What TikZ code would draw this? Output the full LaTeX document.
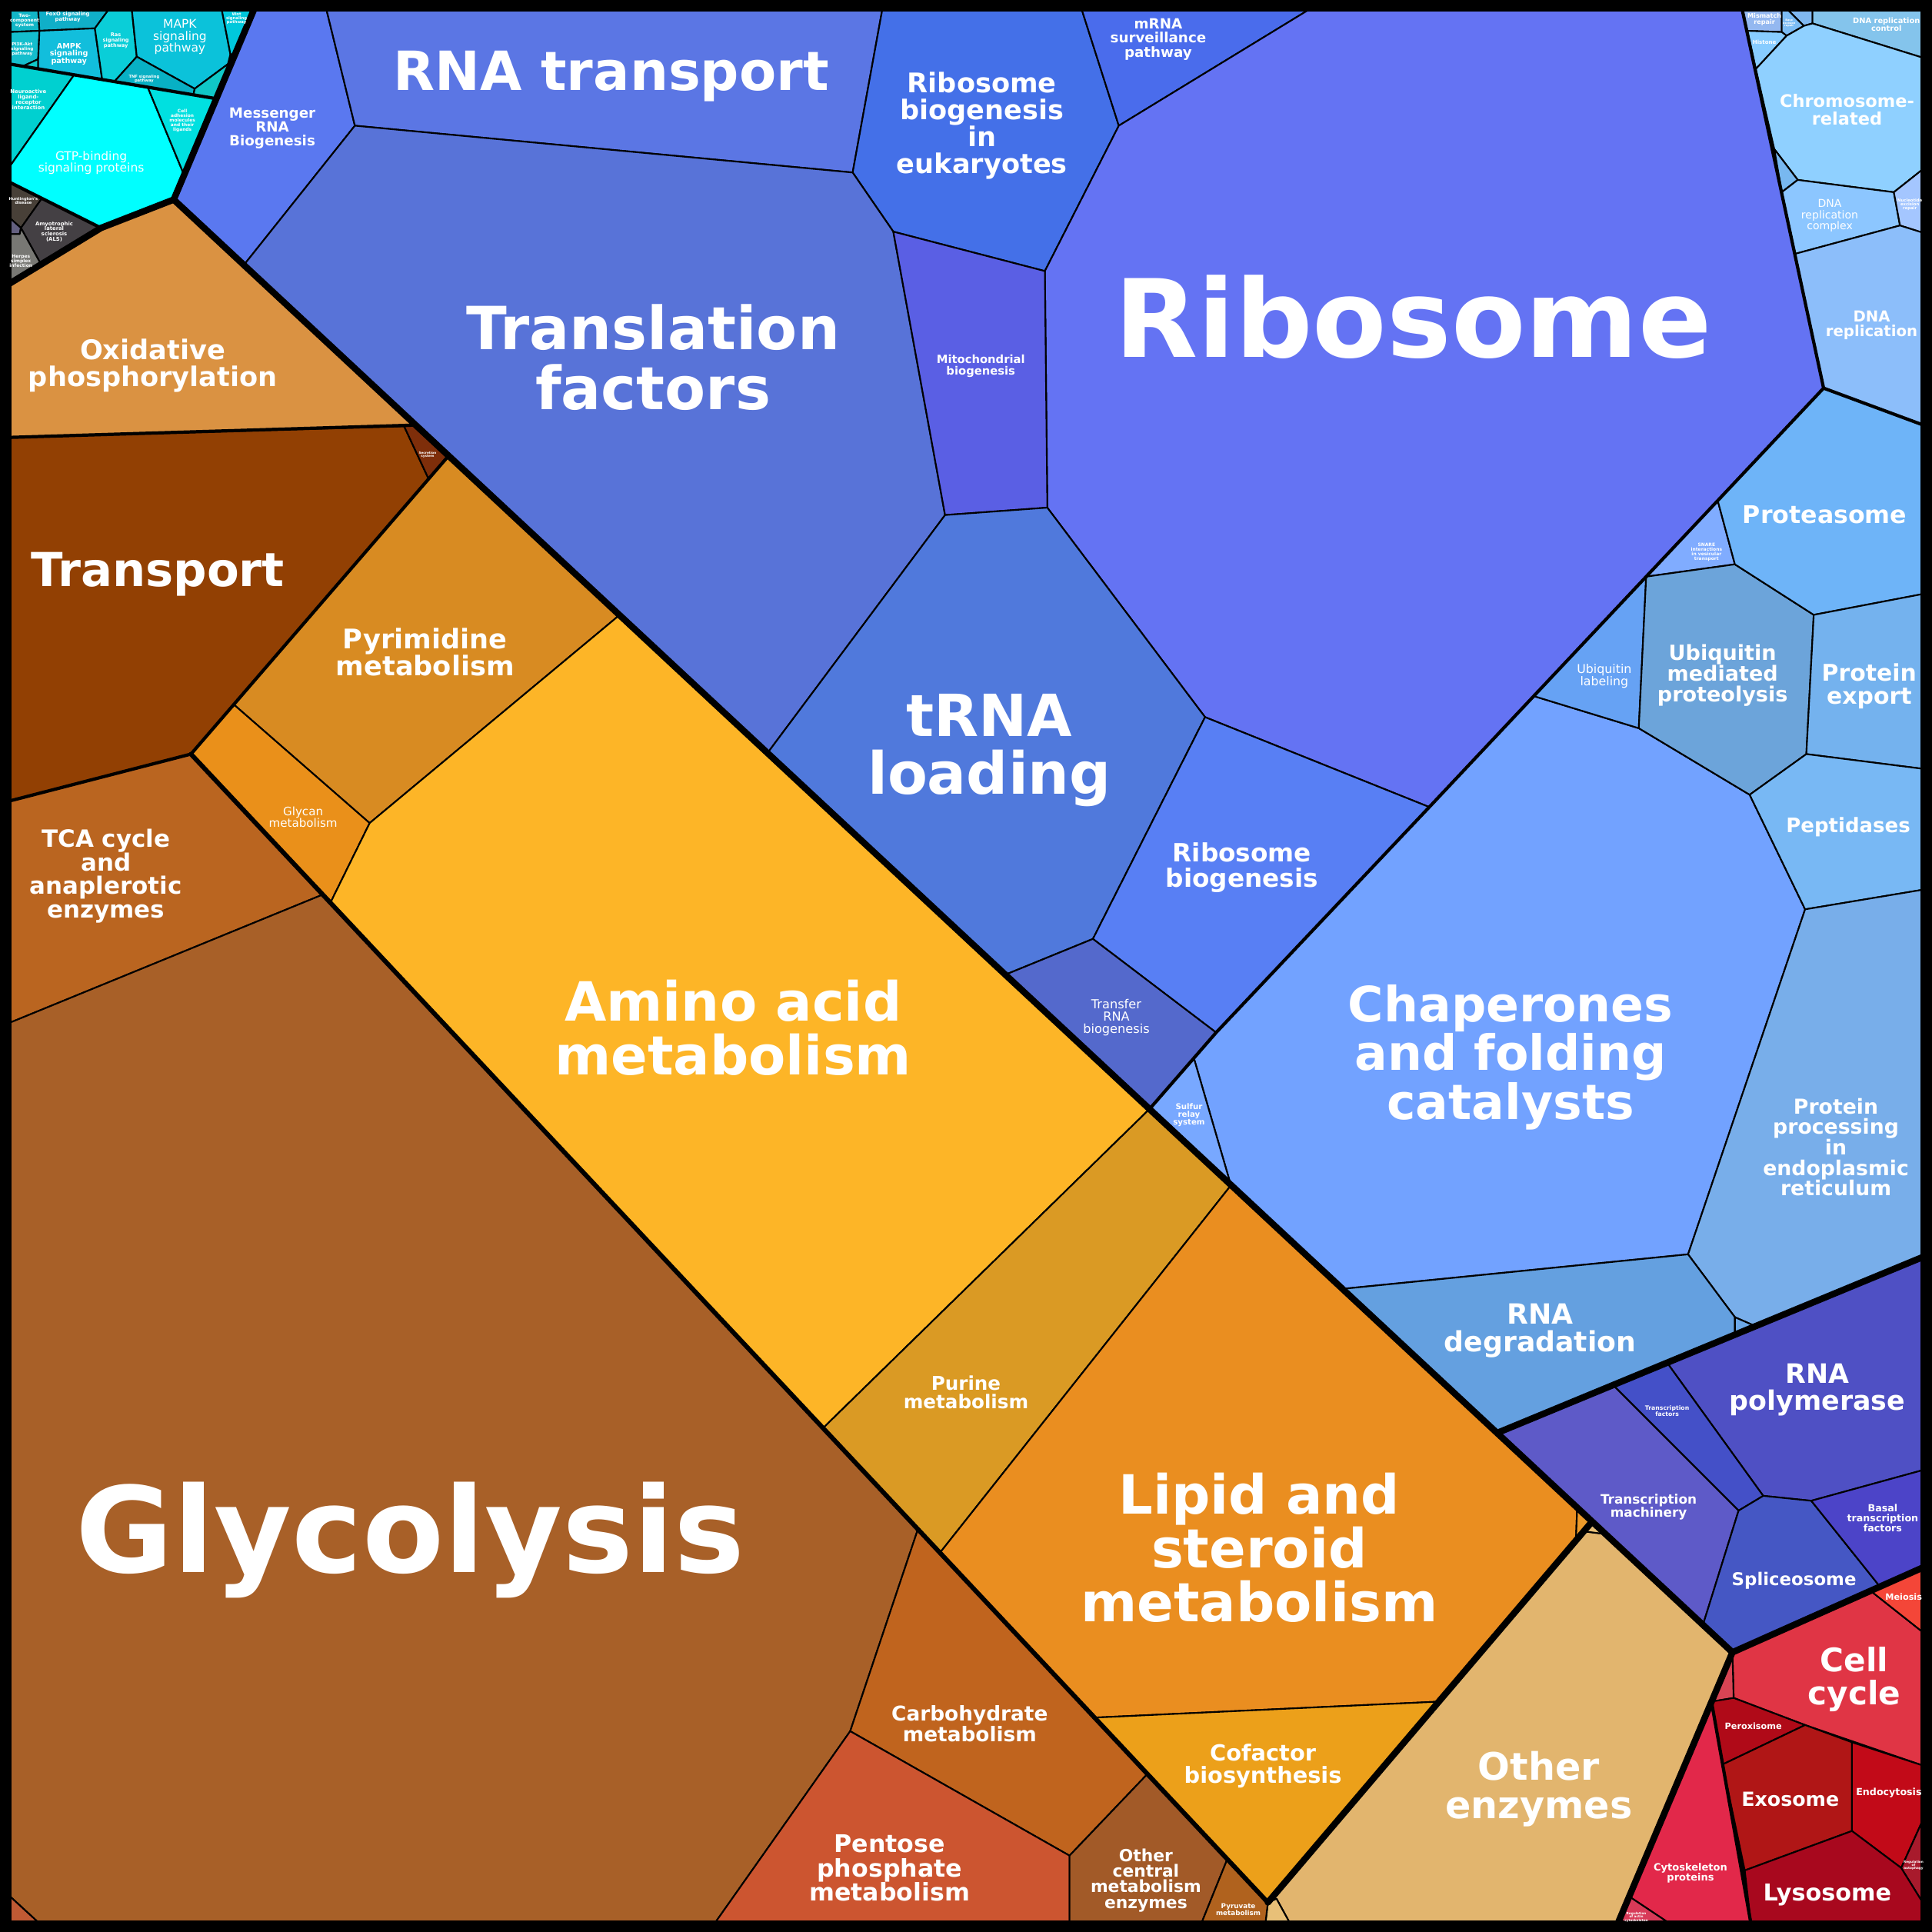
\documentclass[tikz,border=0pt]{standalone}
\usepackage{fontspec}
\setmainfont{DejaVu Sans}
\newcommand{\lblbf}[1]{\fontsize{#1}{#1}\selectfont\bfseries}
\newcommand{\lblrg}[1]{\fontsize{#1}{#1}\selectfont}
% signalling and disease
\definecolor{twocomp}{HTML}{12B6C6}
\definecolor{foxo}{HTML}{10AFC8}
\definecolor{pithree}{HTML}{14BECD}
\definecolor{ampk}{HTML}{12BEDC}
\definecolor{ras}{HTML}{0ACED8}
\definecolor{mapk}{HTML}{0BC2DA}
\definecolor{wnt}{HTML}{00C8DC}
\definecolor{tnf}{HTML}{08B0C4}
\definecolor{hhsig}{HTML}{10C8C8}
\definecolor{neuro}{HTML}{00D0D0}
\definecolor{gtp}{HTML}{00FFFF}
\definecolor{celladh}{HTML}{00E0E0}
\definecolor{hunt}{HTML}{484038}
\definecolor{als}{HTML}{444044}
\definecolor{herpes}{HTML}{787874}
\definecolor{prion}{HTML}{646080}
% genetic information
\definecolor{messenger}{HTML}{5A78F0}
\definecolor{rnatrans}{HTML}{5B76E4}
\definecolor{ribeuk}{HTML}{4470E8}
\definecolor{mrnasurv}{HTML}{4A6CEC}
\definecolor{ribo}{HTML}{6473F3}
\definecolor{transl}{HTML}{5873D8}
\definecolor{mito}{HTML}{5A5FE4}
\definecolor{trnaload}{HTML}{5079DC}
\definecolor{ribbio}{HTML}{587FF4}
\definecolor{transfer}{HTML}{5469CC}
\definecolor{chaper}{HTML}{72A2FF}
\definecolor{sulfur}{HTML}{78A8FF}
\definecolor{ubiqlab}{HTML}{66A2F4}
\definecolor{snare}{HTML}{80ACFF}
\definecolor{ubiqmed}{HTML}{6CA4DA}
\definecolor{protea}{HTML}{6EB4F8}
\definecolor{protexp}{HTML}{74B2EE}
\definecolor{peptid}{HTML}{78B8F4}
\definecolor{protER}{HTML}{78AEEA}
\definecolor{rnadeg}{HTML}{64A0E0}
\definecolor{rnatiny}{HTML}{6CA8E8}
\definecolor{mismatch}{HTML}{94B8F0}
\definecolor{baseexc}{HTML}{7CBCF4}
\definecolor{dnatop}{HTML}{80B8F0}
\definecolor{dnactl}{HTML}{84C4EC}
\definecolor{histone}{HTML}{88CCFF}
\definecolor{chromo}{HTML}{8FD0FF}
\definecolor{dnasmall}{HTML}{78B8F0}
\definecolor{dnacx}{HTML}{8CC6FF}
\definecolor{nucexc}{HTML}{A4C6FF}
\definecolor{dnarep}{HTML}{8CBEFA}
\definecolor{rnapol}{HTML}{4F50C4}
\definecolor{tfac}{HTML}{4450C8}
\definecolor{tmach}{HTML}{5E5AC8}
\definecolor{splice}{HTML}{4557C4}
\definecolor{basal}{HTML}{4C44C8}
% cellular processes
\definecolor{cellcyc}{HTML}{E03545}
\definecolor{meiosis}{HTML}{F44638}
\definecolor{redtiny}{HTML}{D84454}
\definecolor{perox}{HTML}{B00A18}
\definecolor{exosome}{HTML}{B01616}
\definecolor{endocyt}{HTML}{C20A18}
\definecolor{autoph}{HTML}{A81A2C}
\definecolor{lysosome}{HTML}{A8081E}
\definecolor{cytosk}{HTML}{E2284A}
\definecolor{actin}{HTML}{D83A58}
% metabolism
\definecolor{otherenz}{HTML}{E2B56E}
\definecolor{tantiny}{HTML}{E8C078}
\definecolor{orgtiny}{HTML}{EC9A2A}
\definecolor{oxphos}{HTML}{DA9242}
\definecolor{transport}{HTML}{924003}
\definecolor{secretion}{HTML}{7E2E0A}
\definecolor{pyrimid}{HTML}{D88B22}
\definecolor{glycan}{HTML}{EA901A}
\definecolor{amino}{HTML}{FDB527}
\definecolor{purine}{HTML}{DA9A24}
\definecolor{lipid}{HTML}{EA8E20}
\definecolor{cofactor}{HTML}{ECA01A}
\definecolor{tca}{HTML}{BA6520}
\definecolor{glycol}{HTML}{A86028}
\definecolor{carbo}{HTML}{C0641E}
\definecolor{pentose}{HTML}{CC5530}
\definecolor{othcent}{HTML}{A25A28}
\definecolor{pyruv}{HTML}{B0621E}
\definecolor{corner}{HTML}{C05A34}

\begin{document}
\begin{tikzpicture}[x=0.1602mm, y=-0.1602mm,
  cellpoly/.style={draw=black, line width=0.6pt, line join=round},
  midlvl/.style={draw=black, line width=1.2pt, line join=round, line cap=round},
  toplvl/.style={draw=black, line width=2.4pt, line join=round, line cap=round},
  lbl/.style={text=white, align=center, inner sep=0pt}]
  \useasboundingbox (0,0) rectangle (1568,1568);
  \fill[black] (0,0) rectangle (1568,1568);

  % Signalling (top left corner)
  \filldraw[cellpoly, fill=twocomp] (8,8) -- (31,8) -- (32,25) -- (8,26) -- cycle;
  \filldraw[cellpoly, fill=foxo] (31,8) -- (88,8) -- (77,23) -- (32,25) -- cycle;
  \filldraw[cellpoly, fill=pithree] (8,26) -- (32,25) -- (31,48) -- (18,54) -- (8,52) -- cycle;
  \filldraw[cellpoly, fill=hhsig] (31,48) -- (31,56) -- (18,54) -- cycle;
  \filldraw[cellpoly, fill=ampk] (32,25) -- (77,23) -- (83,65) -- (31,56) -- (31,48) -- cycle;
  \filldraw[cellpoly, fill=ras] (77,23) -- (88,8) -- (107,8) -- (111,46) -- (93,66) -- (83,65) -- cycle;
  \filldraw[cellpoly, fill=mapk] (107,8) -- (180,8) -- (187,44) -- (185,52) -- (158,72) -- (111,46) -- cycle;
  \filldraw[cellpoly, fill=wnt] (180,8) -- (206,8) -- (191,44) -- (187,44) -- cycle;
  \filldraw[cellpoly, fill=tnf] (111,46) -- (158,72) -- (157,77) -- (93,66) -- cycle;
  \filldraw[cellpoly, fill=hhsig] (158,72) -- (185,52) -- (191,44) -- (175,80) -- (157,77) -- cycle;
  \filldraw[cellpoly, fill=neuro] (8,52) -- (60,61) -- (8,135) -- cycle;
  \filldraw[cellpoly, fill=gtp] (60,61) -- (120,71) -- (149,141) -- (141,162) -- (82,185) -- (8,148) -- (8,135) -- cycle;
  \filldraw[cellpoly, fill=celladh] (120,71) -- (175,80) -- (149,141) -- cycle;

  % Diseases
  \filldraw[cellpoly, fill=hunt] (8,148) -- (34,161) -- (17,185) -- (8,177) -- cycle;
  \filldraw[cellpoly, fill=als] (34,161) -- (82,185) -- (33,214) -- (17,185) -- cycle;
  \filldraw[cellpoly, fill=prion] (8,177) -- (17,185) -- (16,190) -- (8,190) -- cycle;
  \filldraw[cellpoly, fill=herpes] (8,190) -- (16,190) -- (17,185) -- (33,214) -- (8,230) -- cycle;

  % Translation
  \filldraw[cellpoly, fill=messenger] (206,8) -- (265,8) -- (288,102) -- (198,215) -- (141,162) -- cycle;
  \filldraw[cellpoly, fill=rnatrans] (265,8) -- (716,8) -- (692,140) -- (288,102) -- cycle;
  \filldraw[cellpoly, fill=ribeuk] (716,8) -- (878,8) -- (908,102) -- (848,220) -- (725,188) -- (692,140) -- cycle;
  \filldraw[cellpoly, fill=mrnasurv] (878,8) -- (1062,8) -- (908,102) -- cycle;
  \filldraw[cellpoly, fill=ribo] (1062,8) -- (1414,8) -- (1480,315) -- (1160,655) -- (978,582) -- (850,412) -- (848,220) -- (908,102) -- cycle;
  \filldraw[cellpoly, fill=transl] (288,102) -- (692,140) -- (725,188) -- (767,418) -- (623,611) -- (198,215) -- cycle;
  \filldraw[cellpoly, fill=mito] (725,188) -- (848,220) -- (850,412) -- (767,418) -- cycle;
  \filldraw[cellpoly, fill=trnaload] (767,418) -- (850,412) -- (978,582) -- (887,762) -- (816,791) -- (623,611) -- cycle;
  \filldraw[cellpoly, fill=ribbio] (978,582) -- (1160,655) -- (987,838) -- (887,762) -- cycle;
  \filldraw[cellpoly, fill=transfer] (887,762) -- (987,838) -- (933,900) -- (816,791) -- cycle;

  % Replication and repair
  \filldraw[cellpoly, fill=mismatch] (1414,8) -- (1446,8) -- (1446,26) -- (1418,25) -- cycle;
  \filldraw[cellpoly, fill=baseexc] (1446,26) -- (1446,8) -- (1451,8) -- (1464,21) -- (1450,29) -- cycle;
  \filldraw[cellpoly, fill=dnatop] (1451,8) -- (1471,8) -- (1471,19) -- (1464,21) -- cycle;
  \filldraw[cellpoly, fill=dnactl] (1471,8) -- (1561,8) -- (1561,47) -- (1471,19) -- cycle;
  \filldraw[cellpoly, fill=histone] (1418,25) -- (1446,26) -- (1450,29) -- (1425,56) -- cycle;
  \filldraw[cellpoly, fill=chromo] (1450,29) -- (1464,21) -- (1471,19) -- (1561,47) -- (1561,137) -- (1537,156) -- (1459,146) -- (1440,121) -- (1425,56) -- cycle;
  \filldraw[cellpoly, fill=dnasmall] (1440,121) -- (1459,146) -- (1446,156) -- cycle;
  \filldraw[cellpoly, fill=dnacx] (1459,146) -- (1537,156) -- (1542,183) -- (1457,206) -- (1446,156) -- cycle;
  \filldraw[cellpoly, fill=nucexc] (1537,156) -- (1561,137) -- (1561,189) -- (1542,183) -- cycle;
  \filldraw[cellpoly, fill=dnarep] (1457,206) -- (1542,183) -- (1561,189) -- (1561,345) -- (1480,315) -- cycle;

  % Folding, sorting and degradation
  \filldraw[cellpoly, fill=chaper] (987,838) -- (1160,655) -- (1245,565) -- (1330,591) -- (1420,645) -- (1465,738) -- (1370,1018) -- (1090,1046) -- (999,962) -- (969,859) -- cycle;
  \filldraw[cellpoly, fill=sulfur] (933,900) -- (969,859) -- (999,962) -- cycle;
  \filldraw[cellpoly, fill=ubiqlab] (1245,565) -- (1336,468) -- (1330,591) -- cycle;
  \filldraw[cellpoly, fill=snare] (1336,468) -- (1394,406) -- (1408,458) -- cycle;
  \filldraw[cellpoly, fill=ubiqmed] (1336,468) -- (1408,458) -- (1472,499) -- (1466,612) -- (1420,645) -- (1330,591) -- cycle;
  \filldraw[cellpoly, fill=protea] (1394,406) -- (1480,315) -- (1561,345) -- (1561,482) -- (1472,499) -- (1408,458) -- cycle;
  \filldraw[cellpoly, fill=protexp] (1472,499) -- (1561,482) -- (1561,624) -- (1466,612) -- cycle;
  \filldraw[cellpoly, fill=peptid] (1420,645) -- (1466,612) -- (1561,624) -- (1561,722) -- (1465,738) -- cycle;
  \filldraw[cellpoly, fill=protER] (1465,738) -- (1561,722) -- (1561,1020) -- (1424,1076) -- (1408,1069) -- (1370,1018) -- cycle;
  \filldraw[cellpoly, fill=rnadeg] (1090,1046) -- (1370,1018) -- (1408,1069) -- (1408,1083) -- (1215,1163) -- cycle;
  \filldraw[cellpoly, fill=rnatiny] (1408,1069) -- (1424,1076) -- (1408,1083) -- cycle;

  % Transcription
  \filldraw[cellpoly, fill=rnapol] (1353,1106) -- (1561,1020) -- (1561,1193) -- (1470,1218) -- (1431,1214) -- cycle;
  \filldraw[cellpoly, fill=tfac] (1309,1124) -- (1353,1106) -- (1431,1214) -- (1411,1226) -- cycle;
  \filldraw[cellpoly, fill=tmach] (1215,1163) -- (1309,1124) -- (1411,1226) -- (1382,1319) -- cycle;
  \filldraw[cellpoly, fill=splice] (1382,1319) -- (1411,1226) -- (1431,1214) -- (1470,1218) -- (1526,1288) -- (1406,1341) -- cycle;
  \filldraw[cellpoly, fill=basal] (1470,1218) -- (1561,1193) -- (1561,1272) -- (1526,1288) -- cycle;

  % Cellular processes (bottom right)
  \filldraw[cellpoly, fill=cellcyc] (1406,1341) -- (1518,1291) -- (1561,1325) -- (1561,1433) -- (1465,1400) -- (1407,1378) -- cycle;
  \filldraw[cellpoly, fill=meiosis] (1518,1291) -- (1561,1272) -- (1561,1325) -- cycle;
  \filldraw[cellpoly, fill=redtiny] (1406,1341) -- (1407,1378) -- (1389,1381) -- cycle;
  \filldraw[cellpoly, fill=perox] (1389,1381) -- (1407,1378) -- (1465,1400) -- (1398,1432) -- cycle;
  \filldraw[cellpoly, fill=exosome] (1398,1432) -- (1465,1400) -- (1503,1414) -- (1503,1486) -- (1416,1518) -- cycle;
  \filldraw[cellpoly, fill=endocyt] (1503,1414) -- (1561,1433) -- (1561,1476) -- (1543,1516) -- (1503,1486) -- cycle;
  \filldraw[cellpoly, fill=autoph] (1543,1516) -- (1561,1476) -- (1561,1545) -- cycle;
  \filldraw[cellpoly, fill=lysosome] (1416,1518) -- (1503,1486) -- (1543,1516) -- (1561,1545) -- (1561,1561) -- (1421,1561) -- cycle;
  \filldraw[cellpoly, fill=cytosk] (1389,1381) -- (1421,1561) -- (1355,1561) -- (1322,1539) -- cycle;
  \filldraw[cellpoly, fill=actin] (1322,1539) -- (1355,1561) -- (1313,1561) -- cycle;

  % Other enzymes
  \filldraw[cellpoly, fill=otherenz] (1279,1250) -- (1287,1243) -- (1303,1245) -- (1406,1341) -- (1313,1561) -- (1047,1561) -- (1036,1541) -- (1029,1544) -- cycle;
  \filldraw[cellpoly, fill=tantiny] (1287,1243) -- (1292,1235) -- (1303,1245) -- cycle;
  \filldraw[cellpoly, fill=tantiny] (1029,1544) -- (1036,1541) -- (1047,1561) -- (1027,1561) -- cycle;

  % Metabolism
  \filldraw[cellpoly, fill=oxphos] (8,230) -- (82,185) -- (141,162) -- (337,345) -- (8,355) -- cycle;
  \filldraw[cellpoly, fill=transport] (8,355) -- (328,346) -- (348,389) -- (155,612) -- (8,650) -- cycle;
  \filldraw[cellpoly, fill=secretion] (328,346) -- (337,345) -- (364,370) -- (348,389) -- cycle;
  \filldraw[cellpoly, fill=pyrimid] (364,370) -- (503,499) -- (300,668) -- (190,572) -- cycle;
  \filldraw[cellpoly, fill=glycan] (190,572) -- (300,668) -- (268,733) -- (155,612) -- cycle;
  \filldraw[cellpoly, fill=amino] (503,499) -- (933,900) -- (668,1159) -- (268,733) -- (300,668) -- cycle;
  \filldraw[cellpoly, fill=purine] (668,1159) -- (933,900) -- (999,962) -- (763,1260) -- cycle;
  \filldraw[cellpoly, fill=lipid] (999,962) -- (1280,1224) -- (1279,1250) -- (1168,1381) -- (888,1394) -- (763,1260) -- cycle;
  \filldraw[cellpoly, fill=orgtiny] (1280,1224) -- (1292,1235) -- (1279,1250) -- cycle;
  \filldraw[cellpoly, fill=cofactor] (888,1394) -- (1168,1381) -- (1029,1544) -- cycle;
  \filldraw[cellpoly, fill=tca] (8,650) -- (155,612) -- (262,726) -- (8,830) -- cycle;
  \filldraw[cellpoly, fill=glycol] (8,830) -- (262,726) -- (745,1241) -- (690,1405) -- (580,1561) -- (32,1561) -- (8,1539) -- cycle;
  \filldraw[cellpoly, fill=corner] (8,1539) -- (32,1561) -- (8,1561) -- cycle;
  \filldraw[cellpoly, fill=carbo] (745,1241) -- (931,1440) -- (868,1506) -- (690,1405) -- cycle;
  \filldraw[cellpoly, fill=pentose] (690,1405) -- (868,1506) -- (868,1561) -- (580,1561) -- cycle;
  \filldraw[cellpoly, fill=othcent] (868,1506) -- (931,1440) -- (996,1509) -- (975,1561) -- (868,1561) -- cycle;
  \filldraw[cellpoly, fill=pyruv] (996,1509) -- (1029,1544) -- (1027,1561) -- (975,1561) -- cycle;

  % Group borders
  \draw[midlvl] (8,52) -- (175,80);
  \draw[midlvl] (8,148) -- (82,185);
  \draw[midlvl] (1414,8) -- (1480,315) -- (1160,655) -- (987,838) -- (933,900);
  \draw[midlvl] (1480,315) -- (1561,345);
  \draw[midlvl] (8,355) -- (337,345);
  \draw[midlvl] (364,370) -- (155,612) -- (8,650);
  \draw[midlvl] (1389,1381) -- (1421,1561);
  \draw[midlvl, line width=1.7pt] (155,612) -- (1029,1544);
  \draw[toplvl] (206,8) -- (141,162) -- (82,185) -- (8,230);
  \draw[toplvl] (141,162) -- (1406,1341);
  \draw[toplvl] (1313,1561) -- (1406,1341) -- (1561,1272);
  \draw[toplvl] (1292,1235) -- (1029,1544);
  \draw[toplvl] (1215,1163) -- (1561,1020);
  \draw[black, line width=3pt] (6,6) rectangle (1562,1562);

  % Labels, translation
  \node[lbl, font=\lblbf{40}] (ribosome) at (1147,257) {Ribosome};
  \node[lbl, font=\lblbf{22}] (translation) at (530,290) {Translation\\factors};
  \node[lbl, font=\lblbf{20}] (rnatransport) at (496,62) {RNA transport};
  \node[lbl, font=\lblbf{10}] (ribeuk) at (797,102) {Ribosome\\biogenesis\\in\\eukaryotes};
  \node[lbl, font=\lblbf{5.2}] (mrnasurv) at (940,32) {mRNA\\surveillance\\pathway};
  \node[lbl, font=\lblbf{5.2}] (messenger) at (221,104) {Messenger\\RNA\\Biogenesis};
  \node[lbl, font=\lblbf{4.2}] (mito) at (796,297) {Mitochondrial\\biogenesis};
  \node[lbl, font=\lblbf{21.5}] (trnaload) at (803,609) {tRNA\\loading};
  \node[lbl, font=\lblbf{9.3}] (ribbio) at (1008,704) {Ribosome\\biogenesis};
  \node[lbl, font=\lblrg{4.6}] (transfer) at (906,826) {Transfer\\RNA\\biogenesis};

  % Labels, folding and degradation
  \node[lbl, font=\lblbf{18}] (chaper) at (1226,858) {Chaperones\\and folding\\catalysts};
  \node[lbl, font=\lblbf{2.9}] (sulfur) at (965,905) {Sulfur\\relay\\system};
  \node[lbl, font=\lblrg{4.5}] (ubiqlab) at (1302,549) {Ubiquitin\\labeling};
  \node[lbl, font=\lblbf{1.7}] (snare) at (1385,448) {SNARE\\interactions\\in vesicular\\transport};
  \node[lbl, font=\lblbf{7.7}] (ubiqmed) at (1398,548) {Ubiquitin\\mediated\\proteolysis};
  \node[lbl, font=\lblbf{9}] (protea) at (1481,418) {Proteasome};
  \node[lbl, font=\lblbf{8.5}] (protexp) at (1517,557) {Protein\\export};
  \node[lbl, font=\lblbf{7.4}] (peptid) at (1500,671) {Peptidases};
  \node[lbl, font=\lblbf{7.6}] (protER) at (1490,931) {Protein\\processing\\in\\endoplasmic\\reticulum};
  \node[lbl, font=\lblbf{10.3}] (rnadeg) at (1250,1080) {RNA\\degradation};

  % Labels, replication and repair
  \node[lbl, font=\lblbf{6.4}] (chromo) at (1499,89) {Chromosome-\\related};
  \node[lbl, font=\lblbf{5.6}] (dnarep) at (1519,264) {DNA\\replication};
  \node[lbl, font=\lblrg{4}] (dnacx) at (1485,175) {DNA\\replication\\complex};
  \node[lbl, font=\lblbf{2.8}] (dnactl) at (1531,20) {DNA replication\\control};
  \node[lbl, font=\lblbf{2.3}] (mismatch) at (1432,16) {Mismatch\\repair};
  \node[lbl, font=\lblbf{2}] (histone) at (1432,34) {Histone};
  \node[lbl, font=\lblbf{1.5}] (nucexc) at (1550,166) {Nucleotide\\excision\\repair};
  \node[lbl, font=\lblbf{1}] (baseexc) at (1452,19) {Base\\excision\\repair};

  % Labels, transcription
  \node[lbl, font=\lblbf{9.9}] (rnapol) at (1475,1128) {RNA\\polymerase};
  \node[lbl, font=\lblbf{2.2}] (tfac) at (1353,1145) {Transcription\\factors};
  \node[lbl, font=\lblbf{4.8}] (tmach) at (1338,1223) {Transcription\\machinery};
  \node[lbl, font=\lblbf{6.5}] (splice) at (1456,1283) {Spliceosome};
  \node[lbl, font=\lblbf{3.6}] (basal) at (1528,1232) {Basal\\transcription\\factors};

  % Labels, cellular processes
  \node[lbl, font=\lblbf{12}] (cellcyc) at (1505,1363) {Cell\\cycle};
  \node[lbl, font=\lblbf{3.2}] (meiosis) at (1545,1296) {Meiosis};
  \node[lbl, font=\lblbf{3.2}] (perox) at (1423,1401) {Peroxisome};
  \node[lbl, font=\lblbf{7.2}] (exosome) at (1453,1460) {Exosome};
  \node[lbl, font=\lblbf{3.6}] (endocyt) at (1533,1455) {Endocytosis};
  \node[lbl, font=\lblbf{8.6}] (lysosome) at (1483,1538) {Lysosome};
  \node[lbl, font=\lblbf{3.7}] (cytosk) at (1372,1520) {Cytoskeleton\\proteins};
  \node[lbl, font=\lblbf{1.2}] (autoph) at (1553,1514) {Regulation\\of\\autophagy};
  \node[lbl, font=\lblbf{1.2}] (actin) at (1328,1556) {Regulation\\of actin\\cytoskeleton};
  \node[lbl, font=\lblbf{14}] (otherenz) at (1249,1452) {Other\\enzymes};

  % Labels, metabolism
  \node[lbl, font=\lblbf{10}] (oxphos) at (124,297) {Oxidative\\phosphorylation};
  \node[lbl, font=\lblbf{17.3}] (transport) at (128,466) {Transport};
  \node[lbl, font=\lblbf{1.2}] (secretion) at (347,369) {Secretion\\system};
  \node[lbl, font=\lblbf{10}] (pyrimid) at (345,529) {Pyrimidine\\metabolism};
  \node[lbl, font=\lblrg{4.3}] (glycan) at (246,663) {Glycan\\metabolism};
  \node[lbl, font=\lblbf{20}] (amino) at (595,834) {Amino acid\\metabolism};
  \node[lbl, font=\lblbf{8.8}] (tca) at (86,711) {TCA cycle\\and\\anaplerotic\\enzymes};
  \node[lbl, font=\lblbf{44}] (glycol) at (333,1250) {Glycolysis};
  \node[lbl, font=\lblbf{7}] (purine) at (784,1130) {Purine\\metabolism};
  \node[lbl, font=\lblbf{20}] (lipid) at (1022,1256) {Lipid and\\steroid\\metabolism};
  \node[lbl, font=\lblbf{8.2}] (cofactor) at (1025,1433) {Cofactor\\biosynthesis};
  \node[lbl, font=\lblbf{7.5}] (carbo) at (787,1399) {Carbohydrate\\metabolism};
  \node[lbl, font=\lblbf{9}] (pentose) at (722,1516) {Pentose\\phosphate\\metabolism};
  \node[lbl, font=\fontsize{6.2}{5.8}\selectfont\bfseries] (othcent) at (930,1526) {Other\\central\\metabolism\\enzymes};
  \node[lbl, font=\lblbf{2.5}] (pyruv) at (1005,1550) {Pyruvate\\metabolism};

  % Labels, signalling and disease
  \node[lbl, font=\lblbf{1.7}] (twocomp) at (20,17) {Two-\\component\\system};
  \node[lbl, font=\lblbf{1.95}] (foxo) at (55,14) {FoxO signaling\\pathway};
  \node[lbl, font=\lblbf{1.6}] (pithree) at (18,40) {PI3K-Akt\\signaling\\pathway};
  \node[lbl, font=\lblbf{2.75}] (ampk) at (56,44) {AMPK\\signaling\\pathway};
  \node[lbl, font=\lblbf{1.87}] (ras) at (94,33) {Ras\\signaling\\pathway};
  \node[lbl, font=\lblrg{4.4}] (mapk) at (146,30) {MAPK\\signaling\\pathway};
  \node[lbl, font=\lblbf{1.5}] (wnt) at (192,15) {Wnt\\signaling\\pathway};
  \node[lbl, font=\lblbf{1.47}] (tnf) at (117,64) {TNF signaling\\pathway};
  \node[lbl, font=\lblbf{1.96}] (neuro) at (23,81) {Neuroactive\\ligand-\\receptor\\interaction};
  \node[lbl, font=\lblrg{4.4}] (gtp) at (74,132) {GTP-binding\\signaling proteins};
  \node[lbl, font=\lblbf{1.67}] (celladh) at (148,98) {Cell\\adhesion\\molecules\\and their\\ligands};
  \node[lbl, font=\lblbf{1.45}] (hunt) at (19,163) {Huntington's\\disease};
  \node[lbl, font=\lblbf{1.94}] (als) at (44,188) {Amyotrophic\\lateral\\sclerosis\\(ALS)};
  \node[lbl, font=\lblbf{1.7}] (herpes) at (17,212) {Herpes\\simplex\\infection};
\end{tikzpicture}
\end{document}
